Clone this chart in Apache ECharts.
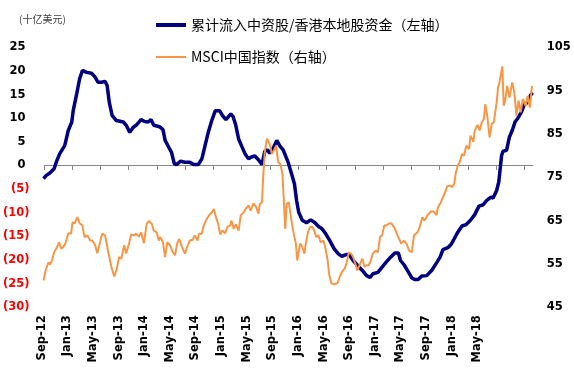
<!DOCTYPE html>
<html>
<head>
<meta charset="utf-8">
<title>累计流入中资股/香港本地股资金 vs MSCI中国指数</title>
<script src="https://cdn.jsdelivr.net/npm/echarts@6/dist/echarts.min.js"></script>
<style>
  html, body { margin: 0; padding: 0; background: #fff; }
  #chart { width: 574px; height: 376px; }
</style>
</head>
<body>
<div id="chart"></div>
<script>
// 时间轴：自2012年9月起的月数
const flowMonths = [0,0.4,0.9,1.5,1.8,2.3,3.0,3.5,4.0,4.2,4.7,5.1,5.5,6.1,6.8,7.3,7.7,8.2,8.7,9.0,
  9.3,9.7,10.3,11.3,11.7,12.2,12.7,13.1,13.8,14.3,14.8,15.2,15.6,16.4,16.9,17.2,17.7,18.1,18.5,18.8,
  19.4,20.0,20.7,21.2,21.9,22.4,22.8,23.3,23.8,24.3,24.9,25.3,25.8,26.5,26.8,27.2,27.6,28.0,28.5,29.0,
  29.4,29.9,30.4,30.9,31.3,31.7,32.0,32.5,33.0,33.4,33.9,34.3,34.6,35.1,35.5,35.8,36.1,36.6,37.2,37.8,
  38.4,38.9,39.4,39.9,40.5,41.1,41.7,42.2,42.9,43.3,43.8,44.4,45.1,45.7,46.2,46.6,47.3,47.9,48.5,49.1,
  49.7,50.2,50.5,51.0,51.6,52.1,52.5,53.0,53.5,54.2,54.9,55.6,56.1,56.5,57.2,57.7,58.1,58.6,59.2,59.8,
  60.4,61.0,61.6,62.2,62.7,63.3,63.6,64.1,64.4,64.8,65.0,65.5,65.9,66.3,66.7,67.1,67.6,68.0,68.5,68.9,69.2];
// 累计流入中资股/香港本地股资金（十亿美元，左轴）
const flowValues = [-2.8,-2.1,-1.6,-0.7,0.7,2.5,4.2,7.4,9.2,11.6,15.2,18.3,20.1,19.7,19.5,18.7,17.6,17.6,17.8,16.9,
  13.4,10.6,9.5,9.2,8.5,7.0,8.1,8.5,9.7,9.3,9.2,9.7,8.5,8.2,7.6,5.3,3.9,2.8,0.4,0.2,
  0.9,0.7,0.7,0.2,0.2,1.4,3.9,7.0,9.5,11.6,11.6,10.6,9.7,10.9,10.4,8.5,5.6,4.2,2.5,1.4,
  1.8,2.0,1.2,0.2,3.0,3.3,2.6,3.7,5.3,4.2,3.3,1.8,0.7,-1.8,-3.9,-7.4,-9.9,-11.6,-12.1,-11.5,
  -12.1,-12.9,-13.4,-14.4,-15.9,-17.6,-18.7,-19.2,-18.8,-19.0,-20.1,-21.1,-22.2,-23.3,-23.7,-22.9,-22.6,-21.5,-20.4,-19.4,
  -18.5,-18.5,-20.1,-21.0,-22.5,-23.8,-24.1,-24.1,-23.4,-23.3,-22.2,-20.6,-19.4,-17.8,-17.4,-16.6,-15.5,-14.1,-12.8,-12.5,
  -11.6,-10.4,-8.6,-8.3,-7.4,-6.7,-6.9,-5.3,-3.5,2.1,3.0,3.2,6.0,7.4,9.2,10.0,11.3,12.8,13.4,14.9,15.4];

const msciMonths = [0,0.3,0.7,0.9,1.2,1.5,1.8,2.2,2.5,2.8,3.1,3.5,3.9,4.1,4.4,4.8,5.1,5.5,5.8,6.2,
  6.6,6.9,7.3,7.6,8.0,8.3,8.7,8.9,9.2,9.6,10.0,10.3,10.7,11.0,11.4,11.7,12.1,12.4,12.8,13.1,
  13.5,13.8,14.2,14.6,14.9,15.3,15.6,16.0,16.3,16.5,16.9,17.2,17.5,17.9,18.3,18.6,18.9,19.2,19.6,20.0,
  20.3,20.7,21.1,21.4,21.8,22.0,22.4,22.6,23.0,23.5,23.8,24.1,24.4,24.7,25.0,25.3,25.7,26.0,26.4,26.6,
  26.9,27.2,27.6,27.9,28.3,28.6,29.0,29.3,29.7,30.1,30.4,30.6,30.9,31.1,31.3,31.6,31.8,32.0,32.3,32.6,
  32.9,33.2,33.5,33.8,34.2,34.4,34.7,35.0,35.3,35.7,35.9,36.3,36.6,36.9,37.1,37.4,37.7,38.0,38.3,38.6,
  38.9,39.2,39.6,39.9,40.2,40.4,40.7,41.1,41.6,41.9,42.2,42.6,42.9,43.2,43.5,43.8,44.1,44.4,44.8,45.1,
  45.4,45.7,46.0,46.3,46.6,47.0,47.3,47.6,47.9,48.2,48.5,48.8,49.2,49.6,49.9,50.3,50.6,51.0,51.4,51.7,
  52.1,52.4,52.9,53.2,53.6,53.9,54.3,54.8,55.2,55.6,55.8,56.2,56.5,56.9,57.1,57.5,57.8,58.1,58.3,58.6,
  58.9,59.2,59.5,59.8,60.2,60.4,60.8,61.0,61.4,61.7,62.0,62.3,62.5,62.8,63.1,63.4,63.7,64.1,64.3,64.5,
  64.9,65.1,65.3,65.6,65.9,66.3,66.6,66.9,67.2,67.5,67.8,68.2,68.5,68.8,69.1];
// MSCI中国指数（右轴）
const msciValues = [51.2,53.5,55.4,54.9,55.8,57.7,58.5,60.0,58.5,58.9,59.8,62.1,62.0,64.6,64.4,65.8,64.4,63.9,61.2,61.6,
  60.4,60.4,59.3,57.5,60.0,62.0,61.6,60.0,57.4,54.3,52.1,53.5,56.6,56.2,59.3,57.4,59.7,61.8,61.6,62.0,
  61.3,62.3,59.8,64.3,64.9,64.3,62.7,62.3,60.4,61.2,60.0,56.6,60.0,59.3,57.7,57.0,59.7,60.8,58.9,57.4,
  58.9,60.4,60.6,61.6,60.4,62.0,62.0,63.5,65.2,66.4,66.9,67.7,65.8,64.3,61.8,62.7,62.1,63.5,63.9,65.0,
  63.1,64.1,62.7,66.2,66.9,67.7,68.5,67.3,69.0,68.1,66.6,68.9,69.2,75.8,80.8,83.9,84.1,82.7,80.4,81.2,
  82.3,78.5,78.1,75.8,63.1,68.9,69.2,65.8,62.7,59.7,55.8,59.7,58.9,57.4,59.7,62.3,63.5,63.6,62.7,61.2,
  61.6,60.0,60.4,58.5,55.8,52.7,50.6,50.3,50.6,52.0,53.1,53.9,55.4,57.7,57.4,56.6,55.1,53.5,55.1,56.2,
  54.4,54.7,54.7,55.8,57.4,58.1,57.7,61.2,61.6,63.9,63.9,64.3,64.4,63.5,62.3,60.8,59.7,60.4,59.5,58.1,
  57.7,61.6,62.3,63.5,65.8,65.0,66.2,67.1,67.1,66.3,68.1,69.2,70.4,71.9,72.9,73.1,72.7,73.5,75.8,77.7,
  78.6,80.4,80.0,82.3,81.5,84.6,83.2,85.8,87.1,85.8,87.7,88.5,91.9,88.8,84.2,87.3,87.7,92.3,95.7,96.9,
  100.6,91.5,92.7,96.1,93.4,96.9,94.6,89.2,92.7,90.0,93.1,91.5,93.8,91.1,96.1];

const dateLabels = ['Sep-12','Jan-13','May-13','Sep-13','Jan-14','May-14','Sep-14','Jan-15','May-15',
  'Sep-15','Jan-16','May-16','Sep-16','Jan-17','May-17','Sep-17','Jan-18','May-18'];

const flowName = '累计流入中资股/香港本地股资金（左轴）';
const msciName = 'MSCI中国指数（右轴）';

const zip = (xs, ys) => xs.map((x, i) => [x, ys[i]]);

const numFont = { fontFamily: 'DejaVu Sans', fontWeight: 'bold', fontSize: 11.5 };
const axisGray = '#868686';
const monthMax = 69.2;
const tickStep = 4;

// 横轴刻度位置（每4个月一个）
const tickMonths = [];
for (let m = 0; m <= monthMax; m += tickStep) tickMonths.push([m, 0]);

const chart = echarts.init(document.getElementById('chart'), null, { renderer: 'canvas' });

chart.setOption({
  animation: false,
  title: {
    text: '(十亿美元)',
    left: 14,
    top: 9,
    textStyle: { fontSize: 10, fontWeight: 'normal', color: '#404040', fontFamily: 'Noto Sans CJK SC' }
  },
  legend: {
    orient: 'vertical',
    left: 156,
    top: 18,
    padding: 0,
    itemWidth: 30,
    itemHeight: 14,
    itemGap: 18,
    data: [
      { name: flowName, icon: 'path://M0 0H30V4H0Z' },
      { name: msciName, icon: 'path://M0 0H30V2H0Z' }
    ],
    textStyle: { fontSize: 14, color: '#000', fontFamily: 'Noto Sans CJK SC' }
  },
  grid: [
    { left: 43.3, right: 41.3, top: 47.3, bottom: 68.7 },
    { left: 41.7, right: 96.7, top: 47.3, bottom: 68.7 }
  ],
  xAxis: [
    {
      type: 'value',
      gridIndex: 0,
      min: 0,
      max: monthMax,
      interval: tickStep,
      axisLine: { show: false },
      axisTick: { show: false },
      axisLabel: { show: false },
      splitLine: { show: false }
    },
    {
      // 日期标签
      type: 'category',
      gridIndex: 1,
      position: 'bottom',
      boundaryGap: false,
      data: dateLabels,
      axisLine: { show: false },
      axisTick: { show: false },
      axisLabel: { interval: 0, rotate: 90, margin: 8, color: '#000', ...numFont }
    }
  ],
  yAxis: [
    {
      type: 'value',
      gridIndex: 0,
      position: 'left',
      min: -30,
      max: 25,
      interval: 5,
      axisLine: { show: false },
      axisTick: { show: false },
      splitLine: { show: false },
      axisLabel: {
        margin: 14,
        ...numFont,
        formatter: v => (v < 0 ? '(' + (-v) + ')' : v + ' '),
        color: v => (Number(v) < 0 ? '#FF0000' : '#000')
      }
    },
    {
      type: 'value',
      gridIndex: 0,
      position: 'right',
      min: 45,
      max: 105,
      interval: 10,
      axisLine: { show: false },
      axisTick: { show: false },
      splitLine: { show: false },
      axisLabel: { margin: 14, color: '#000', ...numFont }
    },
    { type: 'value', gridIndex: 1, show: false }
  ],
  series: [
    {
      // 左轴0处的横轴线和刻度短线
      type: 'custom',
      xAxisIndex: 0,
      yAxisIndex: 0,
      silent: true,
      clip: false,
      z: 1,
      data: tickMonths,
      renderItem: (params, api) => {
        const p = api.coord([api.value(0), 0]);
        const children = [{
          type: 'rect',
          shape: { x: Math.round(p[0]), y: Math.round(p[1]), width: 1, height: 5 },
          style: { fill: axisGray }
        }];
        if (params.dataIndex === 0) {
          const end = api.coord([monthMax, 0]);
          children.push({
            type: 'rect',
            shape: { x: Math.round(p[0]), y: Math.round(p[1]), width: end[0] - p[0], height: 1 },
            style: { fill: axisGray }
          });
        }
        return { type: 'group', children };
      }
    },
    {
      name: flowName,
      type: 'line',
      xAxisIndex: 0,
      yAxisIndex: 0,
      z: 2,
      data: zip(flowMonths, flowValues),
      symbol: 'none',
      lineStyle: { color: '#000080', width: 3.5 },
      itemStyle: { color: '#000080' }
    },
    {
      name: msciName,
      type: 'line',
      xAxisIndex: 0,
      yAxisIndex: 1,
      z: 3,
      data: zip(msciMonths, msciValues),
      symbol: 'none',
      lineStyle: { color: '#F79646', width: 2 },
      itemStyle: { color: '#F79646' }
    }
  ]
});
</script>
</body>
</html>
